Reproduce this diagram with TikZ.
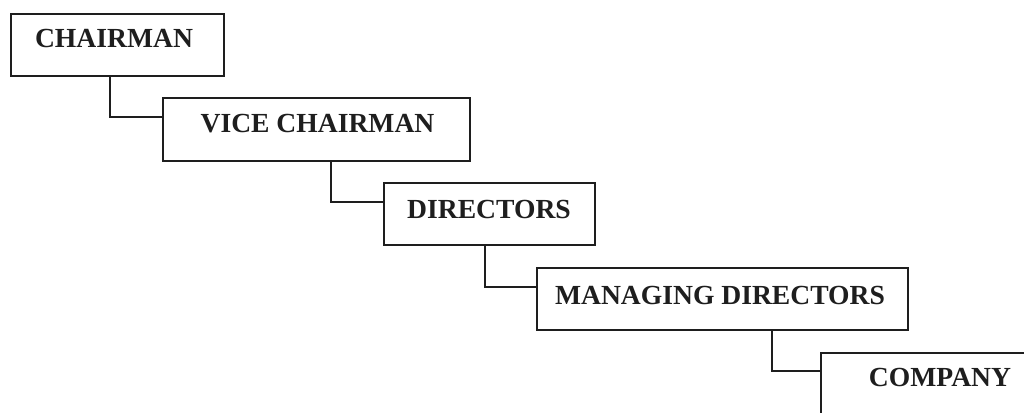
\documentclass[tikz,border=0pt]{standalone}
\usepackage{fontspec}
\setmainfont{Liberation Serif}
\definecolor{ink}{HTML}{1E1E1E}
\begin{document}
\begin{tikzpicture}[x=1pt,y=-1pt,
  box/.style={draw=ink, line width=1.8pt, fill=white, rectangle, inner sep=0pt, anchor=north west},
  lbl/.style={anchor=base, inner sep=0pt, text=ink, font=\fontsize{27.6}{30}\selectfont\bfseries},
  link/.style={draw=ink, line width=1.8pt}]
\useasboundingbox (0,0) rectangle (1024,412);
\clip (0,0) rectangle (1024,412);
\fill[white] (0,0) rectangle (1024,412);
% boxes
\node[box, minimum width=213pt, minimum height=62pt] (b1) at (10,13) {};
\node[box, minimum width=307pt, minimum height=63pt] (b2) at (162,97) {};
\node[box, minimum width=211pt, minimum height=62pt] (b3) at (383,182) {};
\node[box, minimum width=371pt, minimum height=62pt] (b4) at (536,267) {};
\node[box, minimum width=230pt, minimum height=66pt] (b5) at (820,352) {};
% labels
\node[lbl] (t1) at (114,48) {CHAIRMAN};
\node[lbl] (t2) at (317.5,132) {VICE CHAIRMAN};
\node[lbl] (t3) at (489,218) {DIRECTORS};
\node[lbl] (t4) at (720,304) {MANAGING DIRECTORS};
\node[lbl] (t5) at (940,386) {COMPANY};
% elbow points
\coordinate (j1) at (110,117);
\coordinate (j2) at (331,202);
\coordinate (j3) at (485,287);
\coordinate (j4) at (772,371);
% connectors
\draw[link] (b1.south -| j1) -- (j1) -- (j1 -| b2.west);
\draw[link] (b2.south -| j2) -- (j2) -- (j2 -| b3.west);
\draw[link] (b3.south -| j3) -- (j3) -- (j3 -| b4.west);
\draw[link] (b4.south -| j4) -- (j4) -- (j4 -| b5.west);
\end{tikzpicture}
\end{document}
